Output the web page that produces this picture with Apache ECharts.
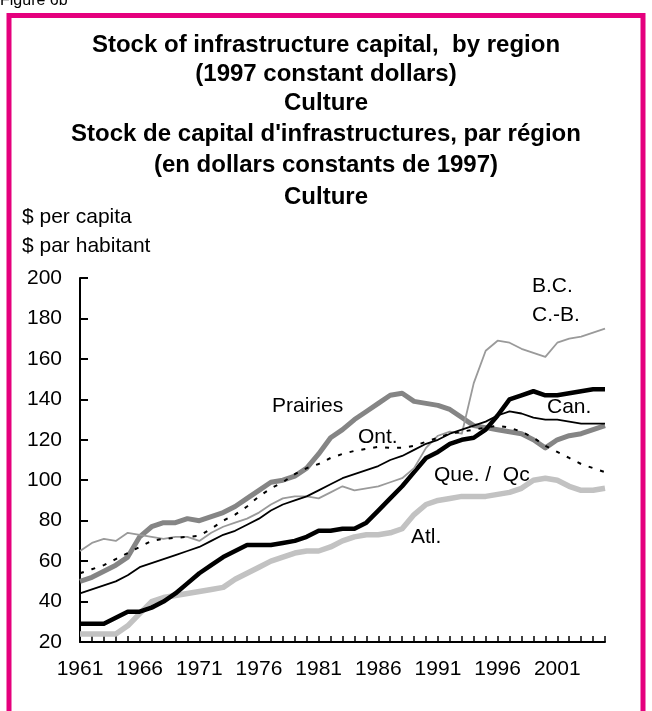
<!DOCTYPE html>
<html>
<head>
<meta charset="utf-8">
<script src="https://cdn.jsdelivr.net/npm/echarts@6/dist/echarts.min.js"></script>
<style>
html,body{margin:0;padding:0;background:#fff;}
#chart{width:652px;height:711px;}
</style>
</head>
<body>
<div id="chart"></div>
<script>
const years = [];
for (let y = 1961; y <= 2005; y++) years.push(String(y));

const atl = [24,24,24,24,28,34,40,42,43,44,45,46,47,51,54,57,60,62,64,65,65,67,70,72,73,73,74,76,83,88,90,91,92,92,92,93,94,96,100,101,100,97,95,95,96];
const que = [29,29,29,32,35,35,37,40,44,49,54,58,62,65,68,68,68,69,70,72,75,75,76,76,79,85,91,97,104,111,114,118,120,121,125,132,140,142,144,142,142,143,144,145,145];
const can = [44,46,48,50,53,57,59,61,63,65,67,70,73,75,78,81,85,88,90,92,95,98,101,103,105,107,110,112,115,118,120,123,125,127,129,132,134,133,131,130,130,129,128,128,128];
const ont = [54,56,58,61,64,67,70,71,71.5,72,72.5,76,80,83,87,92,96,99,103,106,108,111,113,114.5,115.5,116.5,116,116,117,119,121,123,124,125,126,127,126,124,121,117,114,111,108,106,104];
const pra = [50,52,55,58,62,72,77,79,79,81,80,82,84,87,91,95,99,100,102,106,113,121,125,130,134,138,142,143,139,138,137,135,131,127,126,125,124,123,120,116,120,122,123,125,127];
const bc  = [65,69,71,70,74,73,72,71,72,72,70,74,77,79,81,84,88,91,92,92,91,94,97,95,96,97,99,101,106,116,122,124,123,148,164,169,168,165,163,161,168,170,171,173,175];

const yTicks = [20,40,60,80,100,120,140,160,180,200];

const titleLines = [
  'Stock of infrastructure capital,  by region',
  '(1997 constant dollars)',
  'Culture',
  "Stock de capital d'infrastructures, par région",
  '(en dollars constants de 1997)',
  'Culture'
];

const FONT = '"Liberation Sans", Arial, Helvetica, sans-serif';
const chart = echarts.init(document.getElementById('chart'), null, {renderer:'canvas'});

const LBL = '21px ' + FONT;
const graphics = [
  {type:'rect', shape:{x:9, y:15.5, width:634, height:720}, style:{fill:'none', stroke:'#E5007D', lineWidth:5}, z:100},
  {type:'text', x:0, y:-7, style:{text:'Figure 6b', font:'16px '+FONT, fill:'#000'}},
  {type:'text', x:22, y:217, style:{text:'$ per capita', font:LBL, fill:'#000', textVerticalAlign:'middle'}},
  {type:'text', x:22, y:246, style:{text:'$ par habitant', font:LBL, fill:'#000', textVerticalAlign:'middle'}},
  {type:'text', x:272, y:406, style:{text:'Prairies', font:LBL, fill:'#000', textVerticalAlign:'middle'}},
  {type:'text', x:358, y:437, style:{text:'Ont.', font:LBL, fill:'#000', textVerticalAlign:'middle'}},
  {type:'text', x:532, y:286, style:{text:'B.C.', font:LBL, fill:'#000', textVerticalAlign:'middle'}},
  {type:'text', x:532, y:315, style:{text:'C.-B.', font:LBL, fill:'#000', textVerticalAlign:'middle'}},
  {type:'text', x:547, y:407, style:{text:'Can.', font:LBL, fill:'#000', textVerticalAlign:'middle'}},
  {type:'text', x:434, y:475, style:{text:'Que. /  Qc', font:LBL, fill:'#000', textVerticalAlign:'middle'}},
  {type:'text', x:411, y:537, style:{text:'Atl.', font:LBL, fill:'#000', textVerticalAlign:'middle'}}
];
const titleY = [45, 74, 103, 134, 165, 197];
titleLines.forEach((t, i) => {
  graphics.push({type:'text', x:326, y:titleY[i], style:{text:t, font:'bold 24px '+FONT, fill:'#000', textAlign:'center', textVerticalAlign:'middle'}});
});

function line(name, data, color, width, type) {
  return {
    name, type:'line', data, symbol:'none', smooth:false,
    lineStyle:{color, width, type: type || 'solid', cap:'butt', join:'round'},
    itemStyle:{color}, animation:false
  };
}

chart.setOption({
  animation:false,
  backgroundColor:'#fff',
  grid:{left:80, right:47, top:278, bottom:69},
  xAxis:{
    type:'category', data:years, boundaryGap:false,
    axisLine:{lineStyle:{color:'#000', width:2}},
    axisTick:{show:true, inside:true, length:6, interval:0, lineStyle:{color:'#000', width:1.5}},
    axisLabel:{interval:4, margin:17, color:'#000', fontSize:21, fontFamily:FONT},
    splitLine:{show:false}
  },
  yAxis:{
    type:'value', min:20, max:200, interval:20,
    axisLine:{show:true, lineStyle:{color:'#000', width:2}},
    axisTick:{show:true, inside:true, length:8, lineStyle:{color:'#000', width:2}},
    axisLabel:{margin:18, color:'#000', fontSize:21, fontFamily:FONT,
      formatter: v => yTicks.includes(v) ? String(v) : ''},
    splitLine:{show:false}
  },
  series:[
    line('Atl.', atl, '#C2C2C2', 5.5),
    line('Prairies', pra, '#858585', 5),
    line('Que. / Qc', que, '#000000', 4.5),
    line('B.C. / C.-B.', bc, '#9A9A9A', 1.8),
    line('Ont.', ont, '#000000', 2, [4, 8]),
    line('Can.', can, '#000000', 1.8)
  ],
  graphic: graphics
});
</script>
</body>
</html>
